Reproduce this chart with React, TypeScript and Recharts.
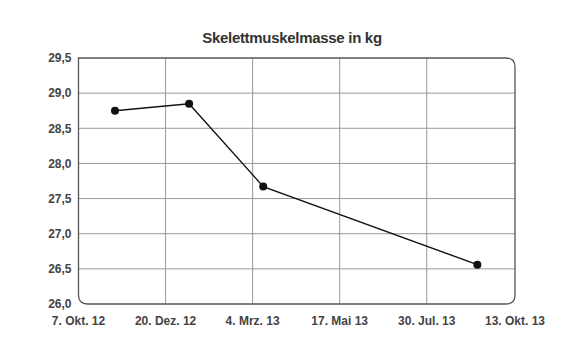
import React from 'react';
import { LineChart, Line, XAxis, YAxis, CartesianGrid, ReferenceArea } from 'recharts';

const measureDates = ['2012-11-07', '2013-01-09', '2013-03-13', '2013-09-11'];
const muscleMass = [28.75, 28.85, 27.67, 26.56];
const xTickDates = ['2012-10-07', '2012-12-20', '2013-03-04', '2013-05-17', '2013-07-30', '2013-10-13'];
const xTickLabels = ['7. Okt. 12', '20. Dez. 12', '4. Mrz. 13', '17. Mai 13', '30. Jul. 13', '13. Okt. 13'];
const yTicks = [26.0, 26.5, 27.0, 27.5, 28.0, 28.5, 29.0, 29.5];
const title = 'Skelettmuskelmasse in kg';

const toT = (s: string) => Date.parse(s + 'T00:00:00Z');
const xTicks = xTickDates.map(toT);
const data = measureDates.map((d, i) => ({ t: toT(d), v: muscleMass[i] }));
const labelFor = (t: number) => {
  const i = xTicks.indexOf(t);
  return i >= 0 ? xTickLabels[i] : '';
};
const FONT = '"Liberation Sans", Arial, sans-serif';

const Frame = (props: any) => {
  const { x, y, width, height } = props;
  const r = 9;
  const x2 = x + width;
  const y2 = y + height;
  const d = `M${x},${y} L${x2 - r},${y} Q${x2},${y} ${x2},${y + r} L${x2},${y2 - r} Q${x2},${y2} ${x2 - r},${y2} L${x + r},${y2} Q${x},${y2} ${x},${y2 - r} Z`;
  return <path d={d} fill="none" stroke="#555" strokeWidth={1.3} />;
};

export default function App() {
  return (
    <div style={{ position: 'absolute', left: 0, top: 0, width: 570, height: 360, background: '#fff' }}>
      <div style={{ position: 'absolute', left: 0, top: 29, width: 584, textAlign: 'center', fontFamily: FONT, fontWeight: 'bold', fontSize: 15, letterSpacing: -0.3, color: '#333' }}>
        {title}
      </div>
      <LineChart width={570} height={360} data={data} margin={{ top: 58, right: 55, bottom: 26, left: 0 }}>
        <CartesianGrid
          stroke="#999"
          strokeWidth={1}
          horizontalValues={yTicks.slice(1, -1)}
          verticalValues={xTicks.slice(1, -1)}
        />
        <XAxis
          dataKey="t"
          type="number"
          scale="time"
          domain={[xTicks[0], xTicks[xTicks.length - 1]]}
          ticks={xTicks}
          tickFormatter={labelFor}
          axisLine={false}
          tickLine={false}
          tickSize={0}
          tickMargin={12}
          height={30}
          interval={0}
          tick={{ fill: '#444', fontFamily: FONT, fontSize: 12, fontWeight: 'bold' }}
        />
        <YAxis
          type="number"
          domain={[26, 29.5]}
          ticks={yTicks}
          tickFormatter={(v: number) => v.toFixed(1).replace('.', ',')}
          axisLine={false}
          tickLine={false}
          tickSize={0}
          tickMargin={7}
          width={78.5}
          interval={0}
          tick={{ fill: '#444', fontFamily: FONT, fontSize: 12, fontWeight: 'bold' }}
        />
        <ReferenceArea
          x1={xTicks[0]}
          x2={xTicks[xTicks.length - 1]}
          y1={26}
          y2={29.5}
          shape={<Frame />}
          ifOverflow="visible"
        />
        <Line
          dataKey="v"
          stroke="#111"
          strokeWidth={1.4}
          dot={{ r: 4, fill: '#111', stroke: '#111', strokeWidth: 0 }}
          isAnimationActive={false}
        />
      </LineChart>
    </div>
  );
}
